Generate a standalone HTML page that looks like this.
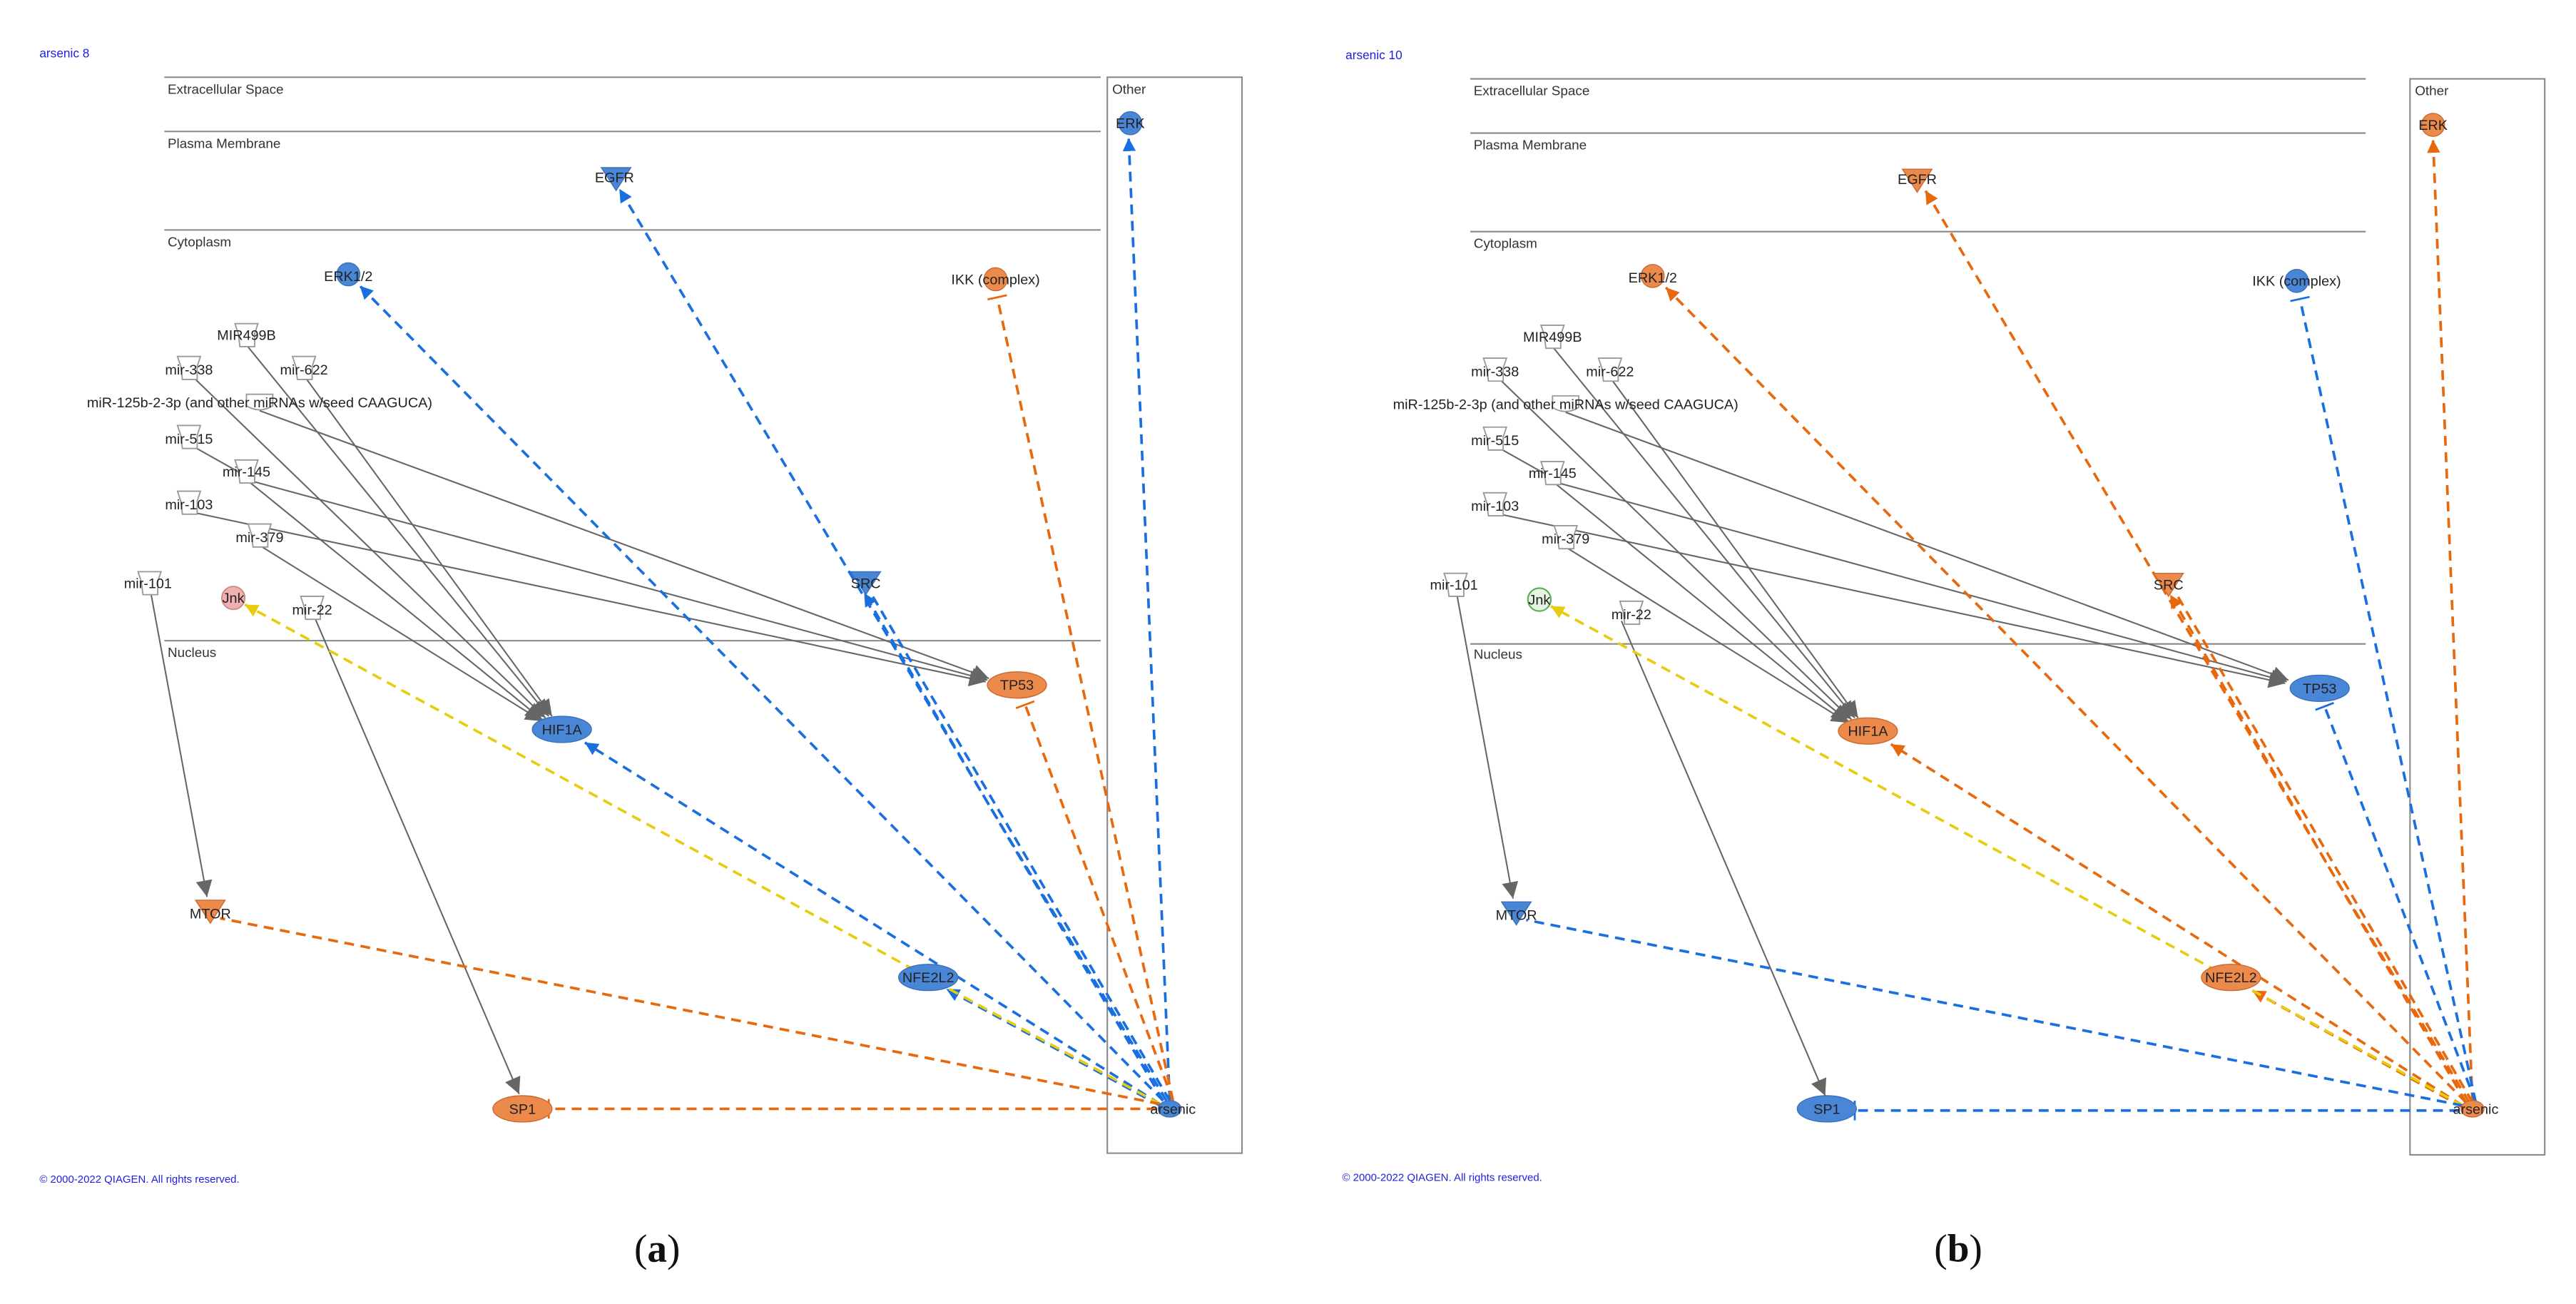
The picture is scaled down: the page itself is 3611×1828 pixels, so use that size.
<!DOCTYPE html>
<html><head><meta charset="utf-8"><style>
html,body{margin:0;padding:0;background:#fff;}
svg{display:block;}
text{font-family:"Liberation Sans",sans-serif;font-size:8.6px;fill:#222;}
.lane{stroke:#888;stroke-width:0.9;fill:none;}
.lt{font-size:8.2px;fill:#333;}
.nb{fill:#4a86d6;stroke:#3a70b8;stroke-width:0.6;}
.no{fill:#ec8a4c;stroke:#c86a30;stroke-width:0.6;}
.mi{fill:#fff;stroke:#999;stroke-width:0.8;}
.g{stroke:#666;stroke-width:0.9;fill:none;}
.eb{stroke:#1a6fe0;stroke-width:1.6;stroke-dasharray:6,4;fill:none;}
.eo{stroke:#e8680e;stroke-width:1.6;stroke-dasharray:6,4;fill:none;}
.ey{stroke:#e8cc10;stroke-width:1.6;stroke-dasharray:6,4;fill:none;}
.blue{fill:#2020e0;font-size:7.5px;}
.cap{font-family:"Liberation Serif",serif;font-size:24px;fill:#111;}
</style></head><body>
<svg width="3611" height="1828" viewBox="0 0 1568 793.8" xmlns="http://www.w3.org/2000/svg">
<defs>
<marker id="ag" markerUnits="userSpaceOnUse" markerWidth="12" markerHeight="12" refX="10" refY="5" orient="auto"><path d="M0,0 L10,5 L0,10 Z" fill="#666"/></marker>
<marker id="ab" markerUnits="userSpaceOnUse" markerWidth="10" markerHeight="10" refX="8" refY="4" orient="auto"><path d="M0,0 L8,4 L0,8 Z" fill="#1a6fe0"/></marker>
<marker id="ao" markerUnits="userSpaceOnUse" markerWidth="10" markerHeight="10" refX="8" refY="4" orient="auto"><path d="M0,0 L8,4 L0,8 Z" fill="#e8680e"/></marker>
<marker id="ay" markerUnits="userSpaceOnUse" markerWidth="10" markerHeight="10" refX="8" refY="4" orient="auto"><path d="M0,0 L8,4 L0,8 Z" fill="#e8cc10"/></marker>
<marker id="ib" markerUnits="userSpaceOnUse" markerWidth="4" markerHeight="12" refX="2" refY="6" orient="auto"><path d="M2,0 L2,12" stroke="#1a6fe0" stroke-width="1.2"/></marker>
<marker id="io" markerUnits="userSpaceOnUse" markerWidth="4" markerHeight="12" refX="2" refY="6" orient="auto"><path d="M2,0 L2,12" stroke="#e8680e" stroke-width="1.2"/></marker>
</defs>

<!-- PANEL A -->
<g>
<text x="24" y="35" class="blue">arsenic 8</text>
<line class="lane" x1="100" y1="47" x2="670" y2="47"/>
<line class="lane" x1="100" y1="80" x2="670" y2="80"/>
<line class="lane" x1="100" y1="140" x2="670" y2="140"/>
<line class="lane" x1="100" y1="390" x2="670" y2="390"/>
<rect class="lane" x="674" y="47" width="82" height="655"/>
<text class="lt" x="102" y="57">Extracellular Space</text>
<text class="lt" x="102" y="90">Plasma Membrane</text>
<text class="lt" x="102" y="150">Cytoplasm</text>
<text class="lt" x="102" y="400">Nucleus</text>
<text class="lt" x="677" y="57">Other</text>

<!-- gray edges -->
<line class="g" x1="150" y1="210" x2="334" y2="436" marker-end="url(#ag)"/>
<line class="g" x1="118" y1="230" x2="332" y2="437" marker-end="url(#ag)"/>
<line class="g" x1="186" y1="230" x2="336" y2="436" marker-end="url(#ag)"/>
<line class="g" x1="118" y1="272" x2="150" y2="290"/>
<line class="g" x1="150" y1="292" x2="330" y2="438" marker-end="url(#ag)"/>
<line class="g" x1="158" y1="332" x2="330" y2="439" marker-end="url(#ag)"/>
<line class="g" x1="158" y1="250" x2="602" y2="413" marker-end="url(#ag)"/>
<line class="g" x1="150" y1="292" x2="601" y2="414" marker-end="url(#ag)"/>
<line class="g" x1="118" y1="312" x2="600" y2="415" marker-end="url(#ag)"/>
<line class="g" x1="92" y1="362" x2="126" y2="546" marker-end="url(#ag)"/>
<line class="g" x1="192" y1="377" x2="316" y2="666" marker-end="url(#ag)"/>

<!-- colored edges -->
<line class="eb" x1="712" y1="670" x2="687" y2="84" marker-end="url(#ab)"/>
<line class="eb" x1="710" y1="670" x2="377" y2="115" marker-end="url(#ab)"/>
<line class="eb" x1="708" y1="670" x2="219" y2="174" marker-end="url(#ab)"/>
<line class="eb" x1="708" y1="670" x2="526" y2="361" marker-end="url(#ab)"/>
<line class="eb" x1="712" y1="670" x2="530" y2="361"/>
<line class="eb" x1="706" y1="672" x2="356" y2="452" marker-end="url(#ab)"/>
<line class="eb" x1="706" y1="673" x2="576" y2="602" marker-end="url(#ab)"/>
<line class="ey" x1="706" y1="672" x2="149" y2="368" marker-end="url(#ay)"/>
<line class="eo" x1="714" y1="670" x2="607" y2="181" marker-end="url(#io)"/>
<line class="eo" x1="714" y1="670" x2="624" y2="429" marker-end="url(#io)"/>
<line class="eo" x1="706" y1="672" x2="134" y2="559"/>
<line class="eo" x1="704" y1="675" x2="334" y2="675" marker-end="url(#io)"/>

<!-- nodes -->
<circle class="nb" cx="688" cy="75" r="7"/><text x="688" y="78" text-anchor="middle">ERK</text>
<path class="nb" d="M366,102 L384,102 L375,116 Z"/><text x="374" y="111" text-anchor="middle">EGFR</text>
<circle class="nb" cx="212" cy="167" r="7"/><text x="212" y="171" text-anchor="middle">ERK1/2</text>
<circle class="no" cx="606" cy="170" r="7"/><text x="606" y="173" text-anchor="middle">IKK (complex)</text>
<path class="mi" d="M143,197 L157,197 L155,203 L155,211 L146,211 L145,203 Z"/><text x="150" y="207" text-anchor="middle">MIR499B</text>
<path class="mi" d="M108,217 L122,217 L120,223 L120,231 L111,231 L110,223 Z"/><text x="115" y="228" text-anchor="middle">mir-338</text>
<path class="mi" d="M178,217 L192,217 L190,223 L190,231 L181,231 L180,223 Z"/><text x="185" y="228" text-anchor="middle">mir-622</text>
<path class="mi" d="M150,240 L166,240 L166,247 Q158,252 150,247 Z"/><text x="158" y="248" text-anchor="middle">miR-125b-2-3p (and other miRNAs w/seed CAAGUCA)</text>
<path class="mi" d="M108,259 L122,259 L120,265 L120,273 L111,273 L110,265 Z"/><text x="115" y="270" text-anchor="middle">mir-515</text>
<path class="mi" d="M143,280 L157,280 L155,286 L155,294 L146,294 L145,286 Z"/><text x="150" y="290" text-anchor="middle">mir-145</text>
<path class="mi" d="M108,299 L122,299 L120,305 L120,313 L111,313 L110,305 Z"/><text x="115" y="310" text-anchor="middle">mir-103</text>
<path class="mi" d="M151,319 L165,319 L163,325 L163,333 L154,333 L153,325 Z"/><text x="158" y="330" text-anchor="middle">mir-379</text>
<path class="mi" d="M84,348 L98,348 L96,354 L96,362 L87,362 L86,354 Z"/><text x="90" y="358" text-anchor="middle">mir-101</text>
<circle cx="142" cy="364" r="7" fill="#f0b0b0" stroke="#c88" stroke-width="0.8"/><text x="142" y="367" text-anchor="middle">Jnk</text>
<path class="mi" d="M183,363 L197,363 L195,369 L195,377 L186,377 L185,369 Z"/><text x="190" y="374" text-anchor="middle">mir-22</text>
<path class="nb" d="M518,348 L536,348 L527,362 Z"/><text x="527" y="358" text-anchor="middle">SRC</text>
<ellipse class="no" cx="619" cy="417" rx="18" ry="8"/><text x="619" y="420" text-anchor="middle">TP53</text>
<ellipse class="nb" cx="342" cy="444" rx="18" ry="8"/><text x="342" y="447" text-anchor="middle">HIF1A</text>
<path class="no" d="M119,548 L137,548 L128,562 Z"/><text x="128" y="559" text-anchor="middle">MTOR</text>
<ellipse class="nb" cx="565" cy="595" rx="18" ry="8"/><text x="565" y="598" text-anchor="middle">NFE2L2</text>
<ellipse class="no" cx="318" cy="675" rx="18" ry="8"/><text x="318" y="678" text-anchor="middle">SP1</text>
<ellipse class="nb" cx="712" cy="675" rx="7" ry="5"/><text x="714" y="678" text-anchor="middle">arsenic</text>
<text x="24" y="720" class="blue" style="font-size:6.5px">© 2000-2022 QIAGEN. All rights reserved.</text>
<text x="400" y="768" class="cap" text-anchor="middle">(<tspan font-weight="bold">a</tspan>)</text>
</g>

<!-- PANEL B -->
<g transform="translate(795,1)">
<text x="24" y="35" class="blue">arsenic 10</text>
<line class="lane" x1="100" y1="47" x2="645" y2="47"/>
<line class="lane" x1="100" y1="80" x2="645" y2="80"/>
<line class="lane" x1="100" y1="140" x2="645" y2="140"/>
<line class="lane" x1="100" y1="391" x2="645" y2="391"/>
<rect class="lane" x="672" y="47" width="82" height="655"/>
<text class="lt" x="102" y="57">Extracellular Space</text>
<text class="lt" x="102" y="90">Plasma Membrane</text>
<text class="lt" x="102" y="150">Cytoplasm</text>
<text class="lt" x="102" y="400">Nucleus</text>
<text class="lt" x="675" y="57">Other</text>

<line class="g" x1="150" y1="210" x2="334" y2="436" marker-end="url(#ag)"/>
<line class="g" x1="118" y1="230" x2="332" y2="437" marker-end="url(#ag)"/>
<line class="g" x1="186" y1="230" x2="336" y2="436" marker-end="url(#ag)"/>
<line class="g" x1="118" y1="272" x2="150" y2="290"/>
<line class="g" x1="150" y1="292" x2="330" y2="438" marker-end="url(#ag)"/>
<line class="g" x1="158" y1="332" x2="330" y2="439" marker-end="url(#ag)"/>
<line class="g" x1="158" y1="250" x2="598" y2="413" marker-end="url(#ag)"/>
<line class="g" x1="150" y1="292" x2="597" y2="414" marker-end="url(#ag)"/>
<line class="g" x1="118" y1="312" x2="596" y2="415" marker-end="url(#ag)"/>
<line class="g" x1="92" y1="362" x2="126" y2="546" marker-end="url(#ag)"/>
<line class="g" x1="192" y1="377" x2="316" y2="666" marker-end="url(#ag)"/>

<line class="eo" x1="710" y1="670" x2="686" y2="84" marker-end="url(#ao)"/>
<line class="eo" x1="708" y1="670" x2="377" y2="115" marker-end="url(#ao)"/>
<line class="eo" x1="706" y1="670" x2="219" y2="174" marker-end="url(#ao)"/>
<line class="eo" x1="706" y1="670" x2="526" y2="361" marker-end="url(#ao)"/>
<line class="eo" x1="710" y1="670" x2="530" y2="361"/>
<line class="eo" x1="704" y1="672" x2="356" y2="452" marker-end="url(#ao)"/>
<line class="eo" x1="704" y1="673" x2="576" y2="602" marker-end="url(#ao)"/>
<line class="ey" x1="704" y1="672" x2="149" y2="368" marker-end="url(#ay)"/>
<line class="eb" x1="712" y1="670" x2="605" y2="181" marker-end="url(#ib)"/>
<line class="eb" x1="712" y1="670" x2="620" y2="429" marker-end="url(#ib)"/>
<line class="eb" x1="704" y1="672" x2="134" y2="559"/>
<line class="eb" x1="702" y1="675" x2="334" y2="675" marker-end="url(#ib)"/>

<circle class="no" cx="686" cy="75" r="7"/><text x="686" y="78" text-anchor="middle">ERK</text>
<path class="no" d="M363,102 L381,102 L372,116 Z"/><text x="372" y="111" text-anchor="middle">EGFR</text>
<circle class="no" cx="211" cy="167" r="7"/><text x="211" y="171" text-anchor="middle">ERK1/2</text>
<circle class="nb" cx="603" cy="170" r="7"/><text x="603" y="173" text-anchor="middle">IKK (complex)</text>
<path class="mi" d="M143,197 L157,197 L155,203 L155,211 L146,211 L145,203 Z"/><text x="150" y="207" text-anchor="middle">MIR499B</text>
<path class="mi" d="M108,217 L122,217 L120,223 L120,231 L111,231 L110,223 Z"/><text x="115" y="228" text-anchor="middle">mir-338</text>
<path class="mi" d="M178,217 L192,217 L190,223 L190,231 L181,231 L180,223 Z"/><text x="185" y="228" text-anchor="middle">mir-622</text>
<path class="mi" d="M150,240 L166,240 L166,247 Q158,252 150,247 Z"/><text x="158" y="248" text-anchor="middle">miR-125b-2-3p (and other miRNAs w/seed CAAGUCA)</text>
<path class="mi" d="M108,259 L122,259 L120,265 L120,273 L111,273 L110,265 Z"/><text x="115" y="270" text-anchor="middle">mir-515</text>
<path class="mi" d="M143,280 L157,280 L155,286 L155,294 L146,294 L145,286 Z"/><text x="150" y="290" text-anchor="middle">mir-145</text>
<path class="mi" d="M108,299 L122,299 L120,305 L120,313 L111,313 L110,305 Z"/><text x="115" y="310" text-anchor="middle">mir-103</text>
<path class="mi" d="M151,319 L165,319 L163,325 L163,333 L154,333 L153,325 Z"/><text x="158" y="330" text-anchor="middle">mir-379</text>
<path class="mi" d="M84,348 L98,348 L96,354 L96,362 L87,362 L86,354 Z"/><text x="90" y="358" text-anchor="middle">mir-101</text>
<circle cx="142" cy="364" r="7" fill="#e4f4e0" stroke="#5a5" stroke-width="0.9"/><text x="142" y="367" text-anchor="middle">Jnk</text>
<path class="mi" d="M191,365 L205,365 L203,371 L203,379 L194,379 L193,371 Z"/><text x="198" y="376" text-anchor="middle">mir-22</text>
<path class="no" d="M516,348 L534,348 L525,362 Z"/><text x="525" y="358" text-anchor="middle">SRC</text>
<ellipse class="nb" cx="617" cy="418" rx="18" ry="8"/><text x="617" y="421" text-anchor="middle">TP53</text>
<ellipse class="no" cx="342" cy="444" rx="18" ry="8"/><text x="342" y="447" text-anchor="middle">HIF1A</text>
<path class="nb" d="M119,548 L137,548 L128,562 Z"/><text x="128" y="559" text-anchor="middle">MTOR</text>
<ellipse class="no" cx="563" cy="594" rx="18" ry="8"/><text x="563" y="597" text-anchor="middle">NFE2L2</text>
<ellipse class="nb" cx="317" cy="674" rx="18" ry="8"/><text x="317" y="677" text-anchor="middle">SP1</text>
<ellipse class="no" cx="710" cy="674" rx="7" ry="5"/><text x="712" y="677" text-anchor="middle">arsenic</text>
<text x="22" y="718" class="blue" style="font-size:6.5px">© 2000-2022 QIAGEN. All rights reserved.</text>
<text x="397" y="767" class="cap" text-anchor="middle">(<tspan font-weight="bold">b</tspan>)</text>
</g>
</svg>
</body></html>
